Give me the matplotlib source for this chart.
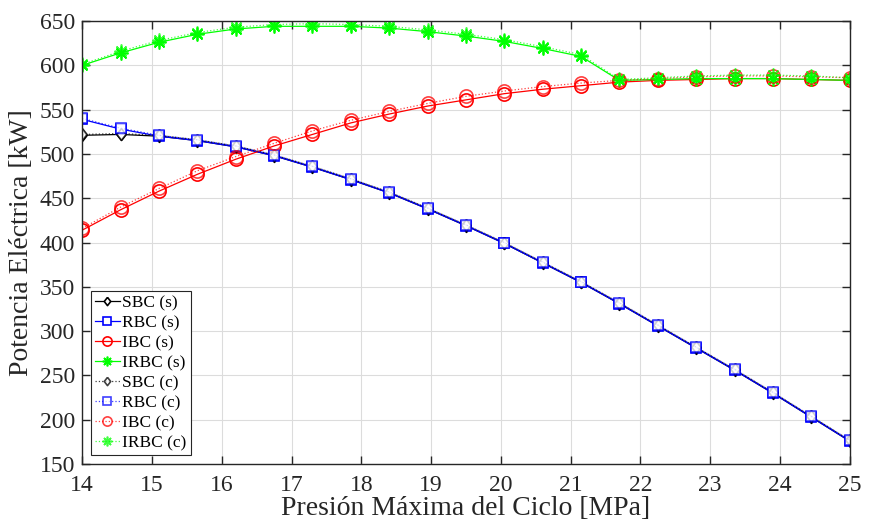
import matplotlib
matplotlib.use("Agg")
import matplotlib.pyplot as plt
import numpy as np

plt.rcParams['font.family'] = ['Liberation Serif', 'DejaVu Serif']
plt.rcParams['mathtext.fontset'] = 'stix'

pressure = [14.0, 14.55, 15.1, 15.65, 16.2, 16.75, 17.3, 17.85, 18.4, 18.95, 19.5,
            20.05, 20.6, 21.15, 21.7, 22.25, 22.8, 23.35, 23.9, 24.45, 25.0]

sbc_s = [521, 522, 520, 515, 508, 498, 485, 471, 456, 438, 419, 399, 377, 355, 331, 306, 281, 256, 230, 203, 176]
rbc_s = [539, 528, 520, 515, 508, 498, 485, 471, 456, 438, 419, 399, 377, 355, 331, 306, 281, 256, 230, 203, 176]
ibc_s = [414, 437, 458, 477, 494, 509, 522, 535, 545, 554, 561, 568, 573, 577, 581, 583, 584, 585, 585, 584, 583]
irbc_s = [600, 614, 626, 635, 641, 644, 644, 644, 642, 638, 633, 627, 619, 610, 583, 584, 585, 585, 585, 584, 583]

sbc_c = [522, 523, 521, 516, 509, 499, 486, 472, 457, 439, 420, 400, 378, 356, 332, 307, 282, 257, 231, 204, 177]
rbc_c = [540, 529, 521, 516, 509, 499, 486, 472, 457, 439, 420, 400, 378, 356, 332, 307, 282, 257, 231, 204, 177]
ibc_c = [416, 440, 461, 481, 497, 512, 526, 538, 548, 557, 565, 571, 576, 580, 583, 585, 587, 588, 588, 587, 586]
irbc_c = [601, 616, 628, 637, 643, 646, 647, 646, 644, 640, 635, 629, 621, 612, 584, 586, 588, 589, 589, 588, 586]

labels_s = ['SBC (s)', 'RBC (s)', 'IBC (s)', 'IRBC (s)']
labels_c = ['SBC (c)', 'RBC (c)', 'IBC (c)', 'IRBC (c)']

colors = ['#000000', '#0000ff', '#ff0000', '#00ff00']
diamond = [(0, 1), (0.78, 0), (0, -1), (-0.78, 0), (0, 1)]
markers = [diamond, 's', 'o', (8, 2, 0)]
msizes = [8.5, 7.5, 9.5, 10]
fills = ['white', 'white', 'none', None]

fig = plt.figure(figsize=(8.75, 5.25), dpi=100)
ax = fig.add_axes([0.094, 0.116, 0.877, 0.844])

series_s = [sbc_s, rbc_s, ibc_s, irbc_s]
series_c = [sbc_c, rbc_c, ibc_c, irbc_c]

for ys, c, m, ms, fc, lab in zip(series_s, colors, markers, msizes, fills, labels_s):
    ax.plot(pressure, ys, '-', color=c, marker=m, ms=ms,
            mfc=c if fc is None else fc, mec=c, mew=1.2, lw=0.9, label=lab)

for ys, c, m, ms, fc, lab in zip(series_c, colors, markers, msizes, fills, labels_c):
    ax.plot(pressure, ys, ':', color=c, marker=m, ms=ms,
            mfc=c if fc is None else fc, mec=c, mew=1.2, lw=0.9, label=lab, alpha=0.75)

ax.set_xlim(14, 25)
ax.set_ylim(150, 650)
ax.set_xticks(np.arange(14, 26, 1))
ax.set_yticks(np.arange(150, 651, 50))
ax.grid(True, color='#dcdcdc', lw=0.8)
ax.set_axisbelow(True)
ax.tick_params(direction='in', top=True, right=True, length=6, width=1,
               labelsize=17, colors='#262626')
ax.tick_params(axis='x', pad=8)
ax.tick_params(axis='y', pad=5)
for sp in ax.spines.values():
    sp.set_color('#262626')
    sp.set_linewidth(1.0)

ax.set_xlabel('Presión Máxima del Ciclo [MPa]', fontsize=20, color='#262626', labelpad=0)
ax.set_ylabel('Potencia Eléctrica [kW]', fontsize=20, color='#262626', labelpad=4)

leg = ax.legend(loc='lower left', fontsize=12.5, frameon=True, fancybox=False,
                edgecolor='#262626', framealpha=1, borderpad=0.25, labelspacing=0.22,
                handlelength=1.4, handletextpad=0.15, borderaxespad=0.5, markerscale=0.7)
leg.get_frame().set_linewidth(0.8)

fig.savefig('out.png', dpi=100)
